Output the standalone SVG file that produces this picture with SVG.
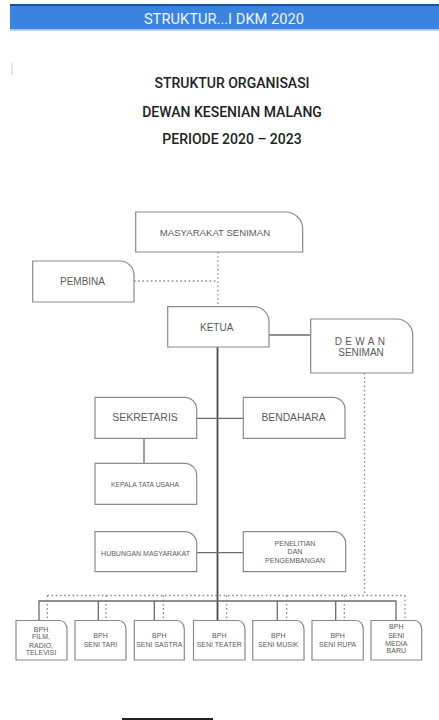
<svg xmlns="http://www.w3.org/2000/svg" width="439" height="720" viewBox="0 0 439 720">
<style>
.box{fill:#fff;stroke:#8a8a8a;stroke-width:1.2}
.t{font-family:"Liberation Sans",Arial,sans-serif;fill:#5a5a5a;text-anchor:middle}
.s{stroke:#6a6a6a;stroke-width:1.3;fill:none}
.main{stroke:#4a4a4a;stroke-width:1.8;fill:none}
.d{stroke:#8a8a8a;stroke-width:1.3;stroke-dasharray:1.6 2.6;fill:none}
.title{font-family:Roboto,"Liberation Sans",sans-serif;font-size:14px;font-weight:500;fill:#222;text-anchor:middle}
</style>
<rect width="439" height="720" fill="#fff"/>
<g id="header">
<rect x="10" y="4" width="429" height="2" fill="#1f4f98"/>
<rect x="10" y="6" width="429" height="23.5" fill="#3a84e0"/>
<rect x="10" y="29.5" width="429" height="1.2" fill="#a9c9f0"/>
<text x="224" y="24" font-family="Roboto,'Liberation Sans',sans-serif" font-size="14.7" fill="#eef4ff" text-anchor="middle">STRUKTUR...I DKM 2020</text>
</g>
<line x1="12" y1="63" x2="12" y2="75" stroke="#cfcfcf" stroke-width="1"/>
<g id="titles">
<text class="title" x="232" y="88">STRUKTUR ORGANISASI</text>
<text class="title" x="232" y="117">DEWAN KESENIAN MALANG</text>
<text class="title" x="232" y="144">PERIODE 2020 – 2023</text>
</g>
<g id="connectors">
<line class="d" x1="218" y1="252" x2="218" y2="306.7"/>
<line class="d" x1="134" y1="281" x2="218" y2="281"/>
<line class="s" x1="269" y1="335" x2="310.7" y2="335"/>
<line class="main" x1="217.5" y1="347" x2="217.5" y2="620.5"/>
<line class="s" x1="196.7" y1="418.3" x2="243.3" y2="418.3"/>
<line class="s" x1="144" y1="438.3" x2="144" y2="463.3"/>
<line class="s" x1="196.7" y1="552.7" x2="243.3" y2="552.7"/>
<line class="d" x1="364.5" y1="373" x2="364.5" y2="595.5"/>
<line class="d" x1="47.3" y1="595.5" x2="405" y2="595.5"/>
<path class="s" d="M39 620.5 V601 H396 V620.5 M98.3 601 V620.5 M154.3 601 V620.5 M277.3 601 V620.5 M335.7 601 V620.5"/>
<path class="d" d="M47.3 595.5 V620.5 M106 595.5 V620.5 M163.3 595.5 V620.5 M226.7 595.5 V620.5 M286.7 595.5 V620.5 M344.3 595.5 V620.5 M405 595.5 V620.5"/>
</g>
<g id="masyarakat">
<path class="box" d="M135.7 212 H285.7 A17 17 0 0 1 302.7 229 V252 H135.7 Z"/>
<text class="t" x="215" y="235.5" font-size="9.6">MASYARAKAT SENIMAN</text>
</g>
<g id="pembina">
<path class="box" d="M32.7 261 H120 A14 14 0 0 1 134 275 V302 H32.7 Z"/>
<text class="t" x="82.5" y="284.5" font-size="10">PEMBINA</text>
</g>
<g id="ketua">
<path class="box" d="M167.7 306.7 H254 A15 15 0 0 1 269 321.7 V347 H167.7 Z"/>
<text class="t" x="216.7" y="331.3" font-size="10">KETUA</text>
</g>
<g id="dewan">
<path class="box" d="M310.7 319 H396.7 A16 16 0 0 1 412.7 335 V373 H310.7 Z"/>
<text class="t" x="361.5" y="344.5" font-size="10" letter-spacing="3.3">DEWAN</text>
<text class="t" x="361" y="356" font-size="10">SENIMAN</text>
</g>
<g id="sekretaris">
<path class="box" d="M95 397.3 H184.7 A12 12 0 0 1 196.7 409.3 V438.3 H95 Z"/>
<text class="t" x="145" y="421.3" font-size="10.5">SEKRETARIS</text>
</g>
<g id="bendahara">
<path class="box" d="M243.3 397.3 H333 A12 12 0 0 1 345 409.3 V438.3 H243.3 Z"/>
<text class="t" x="293.5" y="421.3" font-size="10.3">BENDAHARA</text>
</g>
<g id="kepala">
<path class="box" d="M95 463.3 H184.7 A12 12 0 0 1 196.7 475.3 V504.3 H95 Z"/>
<text class="t" x="145" y="486.5" font-size="6.8">KEPALA TATA USAHA</text>
</g>
<g id="humas">
<path class="box" d="M95 531.7 H184.7 A12 12 0 0 1 196.7 543.7 V571.7 H95 Z"/>
<text class="t" x="145.5" y="555.8" font-size="7">HUBUNGAN MASYARAKAT</text>
</g>
<g id="litbang">
<path class="box" d="M243.3 531.7 H333.7 A12 12 0 0 1 345.7 543.7 V571.7 H243.3 Z"/>
<text class="t" x="295" y="545.8" font-size="7">PENELITIAN</text>
<text class="t" x="295" y="554.2" font-size="7">DAN</text>
<text class="t" x="295" y="562.5" font-size="7">PENGEMBANGAN</text>
</g>
<g id="bph-film">
<path class="box" d="M16 620.5 H60 A7 9 0 0 1 67 629.5 V660 H16 Z"/>
<text class="t" x="41" y="631.8" font-size="7">BPH</text>
<text class="t" x="41" y="639.2" font-size="7">FILM,</text>
<text class="t" x="41" y="647.5" font-size="7">RADIO,</text>
<text class="t" x="41" y="654.8" font-size="7">TELEVISI</text>
</g>
<g id="bph-tari">
<path class="box" d="M75 620.5 H119 A7 9 0 0 1 126 629.5 V660 H75 Z"/>
<text class="t" x="100.5" y="637.5" font-size="7">BPH</text>
<text class="t" x="100.5" y="646.5" font-size="7">SENI TARI</text>
</g>
<g id="bph-sastra">
<path class="box" d="M134.3 620.5 H177.3 A7 9 0 0 1 184.3 629.5 V660 H134.3 Z"/>
<text class="t" x="159.3" y="637.5" font-size="7">BPH</text>
<text class="t" x="159.3" y="646.5" font-size="7">SENI SASTRA</text>
</g>
<g id="bph-teater">
<path class="box" d="M193.5 620.5 H238 A7 9 0 0 1 245 629.5 V660 H193.5 Z"/>
<text class="t" x="219.3" y="637.5" font-size="7">BPH</text>
<text class="t" x="219.3" y="646.5" font-size="7">SENI TEATER</text>
</g>
<g id="bph-musik">
<path class="box" d="M252.7 620.5 H297 A7 9 0 0 1 304 629.5 V660 H252.7 Z"/>
<text class="t" x="278.3" y="637.5" font-size="7">BPH</text>
<text class="t" x="278.3" y="646.5" font-size="7">SENI MUSIK</text>
</g>
<g id="bph-rupa">
<path class="box" d="M312 620.5 H356.3 A7 9 0 0 1 363.3 629.5 V660 H312 Z"/>
<text class="t" x="337.6" y="637.5" font-size="7">BPH</text>
<text class="t" x="337.6" y="646.5" font-size="7">SENI RUPA</text>
</g>
<g id="bph-media">
<path class="box" d="M371 620.5 H414.7 A7 9 0 0 1 421.7 629.5 V660 H371 Z"/>
<text class="t" x="396.3" y="629.2" font-size="7">BPH</text>
<text class="t" x="396.3" y="637.5" font-size="7">SENI</text>
<text class="t" x="396.3" y="645.8" font-size="7">MEDIA</text>
<text class="t" x="396.3" y="653.2" font-size="7">BARU</text>
</g>
<line x1="122" y1="719" x2="213" y2="719" stroke="#222" stroke-width="2"/>
</svg>
